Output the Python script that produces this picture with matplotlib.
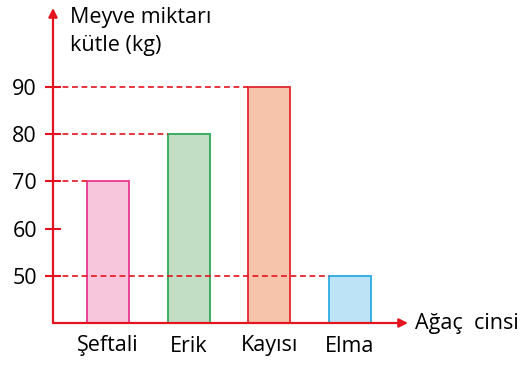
import matplotlib
matplotlib.use('Agg')
import matplotlib.pyplot as plt

# Fruit yield per tree type (kg)
trees = ['Şeftali', 'Erik', 'Kayısı', 'Elma']
amounts = [70, 80, 90, 50]
y_ticks = [50, 60, 70, 80, 90]

FILL = ['#f8c6dc', '#c2dfc5', '#f6c3ab', '#bde3f7']
EDGE = ['#e8378f', '#2fa85a', '#e3262e', '#2ba9e0']
RED = '#e3141f'
FS = 15.5

plt.rcParams['font.family'] = ['Open Sans', 'DejaVu Sans']

fig = plt.figure(figsize=(5.28, 3.65), dpi=100)
ax = fig.add_axes([53 / 528, 42 / 365, 355 / 528, 315 / 365])

x = list(range(len(trees)))
bar_w = 0.52
ax.bar(x, amounts, width=bar_w, bottom=0, color=FILL, edgecolor=EDGE, linewidth=1.3, zorder=2)

x_left = -0.68
ax.set_xlim(x_left, 3.72)
ax.set_ylim(40, 106.7)

# dashed guides from the axis to the bar whose top sits on that value
for i, v in enumerate(amounts):
    ax.hlines(v, x_left, x[i] - bar_w / 2, colors=RED, linestyles=(0, (3.5, 2.2)),
              linewidth=1.2, zorder=3)

for s in ax.spines.values():
    s.set_visible(False)

# axes with arrow heads
ax.annotate('', xy=(0, 1), xytext=(0, 0), xycoords='axes fraction',
            arrowprops=dict(arrowstyle='-|>', color=RED, lw=1.6, mutation_scale=13,
                            shrinkA=0, shrinkB=0))
ax.annotate('', xy=(1, 0), xytext=(0, 0), xycoords='axes fraction',
            arrowprops=dict(arrowstyle='-|>', color=RED, lw=1.6, mutation_scale=13,
                            shrinkA=0, shrinkB=0))

ax.set_yticks(y_ticks)
ax.set_yticklabels([str(t) for t in y_ticks], fontsize=FS)
ax.tick_params(axis='y', direction='inout', length=11, width=1.5, color=RED, pad=6)
ax.set_xticks(x)
ax.set_xticklabels(trees, fontsize=FS)
ax.tick_params(axis='x', length=0, pad=9)

ax.text(70 / 528, 1 - 17 / 365, 'Meyve miktarı', transform=fig.transFigure,
        fontsize=FS, va='center', ha='left')
ax.text(70 / 528, 1 - 46 / 365, 'kütle (kg)', transform=fig.transFigure,
        fontsize=FS, va='center', ha='left')
ax.text(415 / 528, 1 - 324 / 365, 'Ağaç  cinsi', transform=fig.transFigure,
        fontsize=FS, va='center', ha='left')

fig.savefig('out.png', dpi=100, facecolor='white')
